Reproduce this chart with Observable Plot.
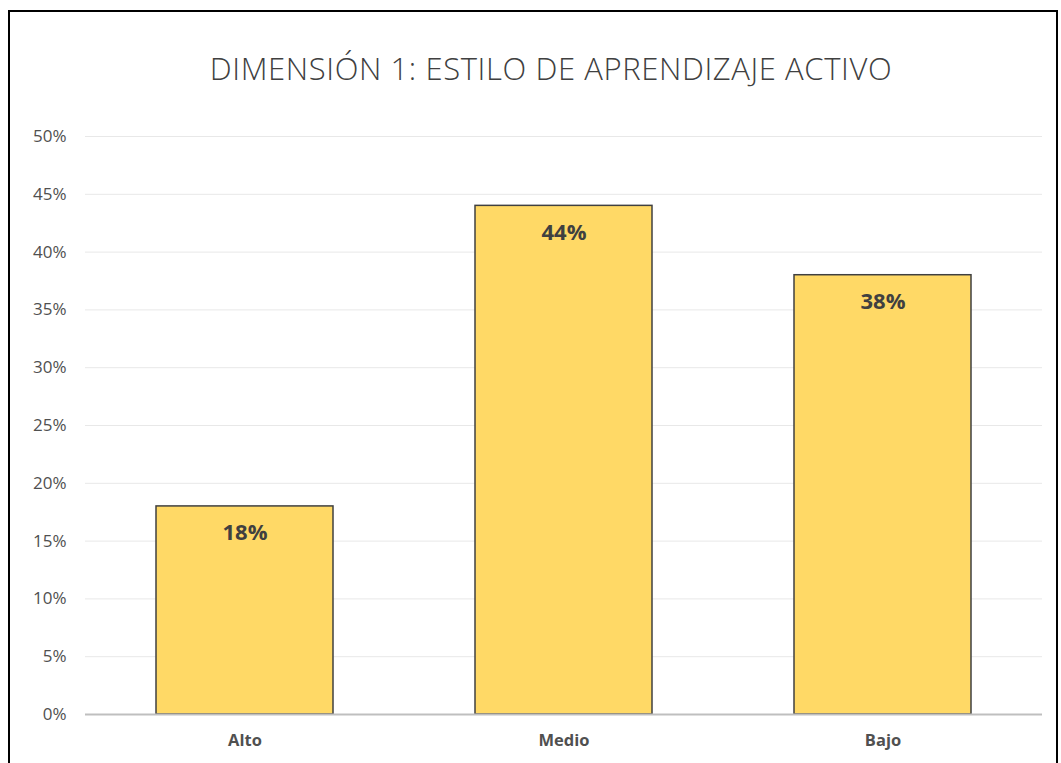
<!DOCTYPE html>
<html>
<head>
<meta charset="utf-8">
<script src="https://cdn.jsdelivr.net/npm/d3@7"></script>
<script src="https://cdn.jsdelivr.net/npm/@observablehq/plot@0.6"></script>
<style>
  html, body { margin: 0; padding: 0; background: #fff; overflow: hidden; }
  #wrap { position: relative; width: 1061px; height: 763px; }
  #frame { position: absolute; left: 8px; top: 10px; width: 1050px; height: 800px; border: 2px solid #000; border-bottom: none; box-sizing: border-box; pointer-events: none; }
  #title { position: absolute; left: 0; width: 1102px; top: 43px; line-height: 50px; text-align: center; font-family: "Open Sans", sans-serif; font-weight: 300; font-size: 31px; color: #404040; letter-spacing: 0.6px; }
  #chart { position: absolute; left: 0; top: 0; }
</style>
</head>
<body>
<div id="wrap">
  <div id="chart"></div>
  <div id="title">DIMENSIÓN 1: ESTILO DE APRENDIZAJE ACTIVO</div>
  <div id="frame"></div>
</div>
<script>
const categories = ["Alto", "Medio", "Bajo"];
const values = [0.18, 0.44, 0.38];
const yTicks = [0, 0.05, 0.10, 0.15, 0.20, 0.25, 0.30, 0.35, 0.40, 0.45, 0.50];

const data = categories.map((c, i) => ({category: c, value: values[i]}));

const chart = Plot.plot({
  width: 1061,
  height: 763,
  marginTop: 136,
  marginBottom: 49,
  marginLeft: 85,
  marginRight: 19,
  style: {fontFamily: "'Open Sans', sans-serif", background: "transparent"},
  x: {domain: categories, paddingInner: 0.445, paddingOuter: 0.2225, label: null},
  y: {domain: [0, 0.5], label: null},
  marks: [
    Plot.gridY(yTicks, {stroke: "#e8e8e8", strokeOpacity: 1, strokeWidth: 1}),
    Plot.axisY(yTicks, {tickSize: 0, tickPadding: 19, tickFormat: d => Math.round(d * 100) + "%", fontSize: 17, fill: "#505050", label: null}),
    Plot.barY(data, {x: "category", y: "value", fill: "#FFD966", stroke: "#404040", strokeWidth: 1.5}),
    Plot.ruleY([0], {stroke: "#bfbfbf", strokeWidth: 2}),
    Plot.axisX({tickSize: 0, tickPadding: 20, fontSize: 16.5, fontWeight: "bold", fill: "#505050", label: null}),
    Plot.text(data, {x: "category", y: "value", text: d => Math.round(d.value * 100) + "%", dy: 27, fontSize: 22, fontWeight: "bold", fill: "#404040"})
  ]
});
document.getElementById("chart").appendChild(chart);
</script>
</body>
</html>
